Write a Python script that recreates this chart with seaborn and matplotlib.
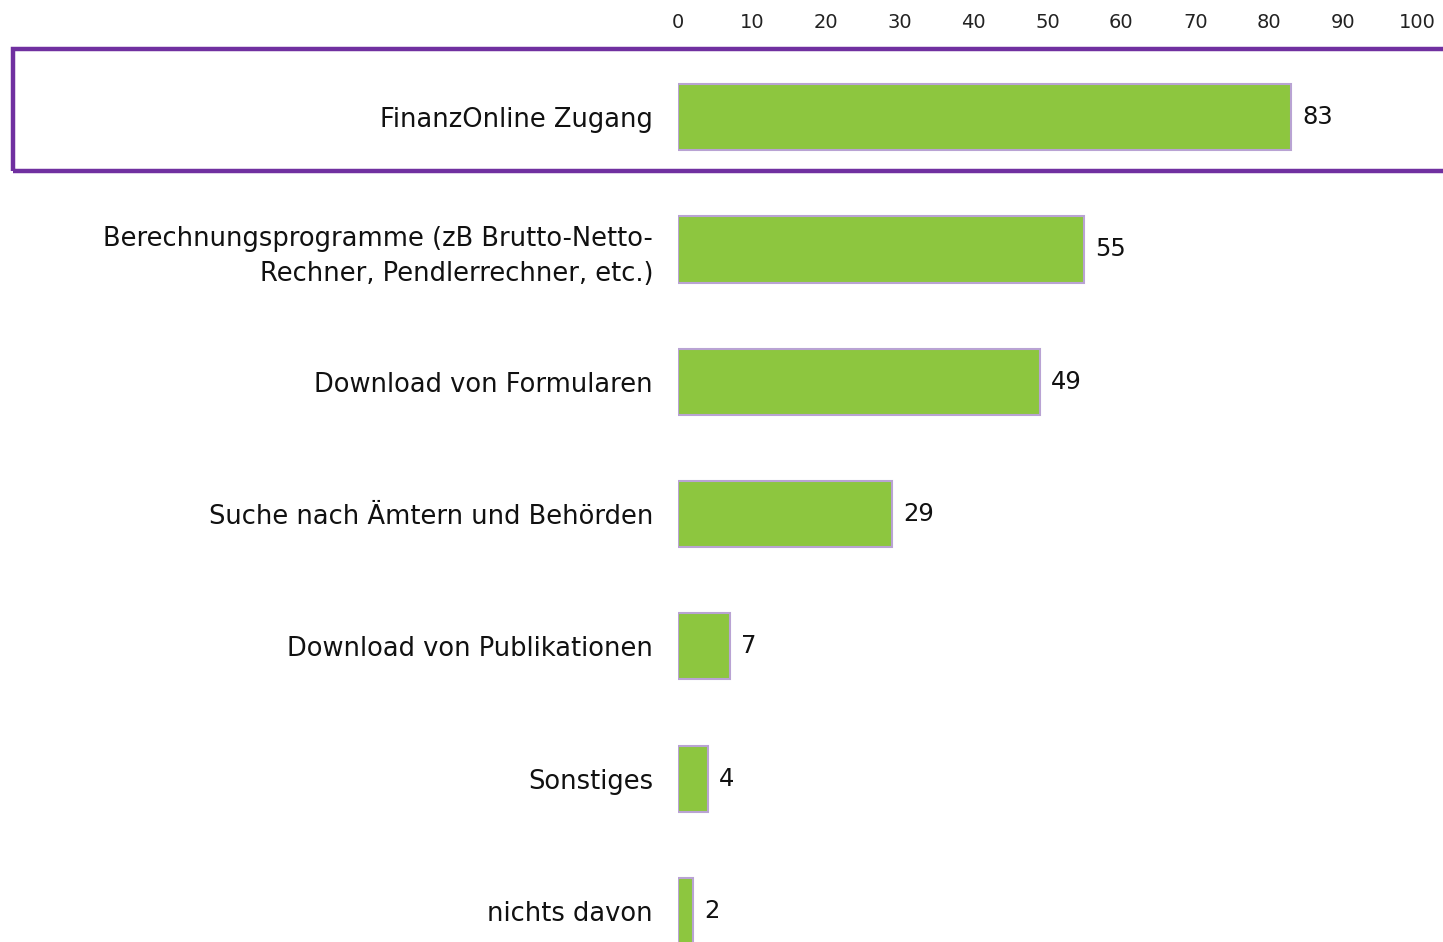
import matplotlib
matplotlib.use("Agg")
import matplotlib.pyplot as plt
import seaborn as sns
import pandas as pd
from matplotlib.patches import Rectangle

# -----------------------------
# Data
# -----------------------------
categories = [
    "FinanzOnline Zugang",
    "Berechnungsprogramme (zB Brutto-Netto-\nRechner, Pendlerrechner, etc.)",
    "Download von Formularen",
    "Suche nach Ämtern und Behörden",
    "Download von Publikationen",
    "Sonstiges",
    "nichts davon",
]
values = [83, 55, 49, 29, 7, 4, 2]
x_ticks = [0, 10, 20, 30, 40, 50, 60, 70, 80, 90, 100]

df = pd.DataFrame({"Kategorie": categories, "Wert": values})

# -----------------------------
# Style
# -----------------------------
sns.set_theme(style="white")
plt.rcParams["font.family"] = ["DejaVu Sans"]

GREEN = "#8DC63F"
EDGE = "#B9A3D3"
PURPLE = "#7030A0"

fig = plt.figure(figsize=(14.43, 9.42), dpi=100)
# axes placed so the last bar runs off the bottom edge like the original
ax = fig.add_axes([678 / 1443, 1 - 977 / 942, 739 / 1443, 926 / 942])

sns.barplot(data=df, x="Wert", y="Kategorie", orient="h", color=GREEN,
            width=0.5, edgecolor=EDGE, linewidth=1.5, saturation=1, ax=ax)

ax.set_xlim(0, 100)
ax.set_ylim(6.5, -0.5)
ax.set_xticks(x_ticks)
ax.xaxis.tick_top()
ax.tick_params(axis="x", length=0, pad=14, labelsize=14, colors="#222222")
ax.tick_params(axis="y", length=0, pad=18, labelsize=18.5, colors="#111111")
for lbl in ax.get_yticklabels():
    lbl.set_linespacing(1.45)
ax.set_xlabel("")
ax.set_ylabel("")
for s in ax.spines.values():
    s.set_visible(False)
ax.grid(False)

# value labels
for i, v in enumerate(values):
    ax.annotate(str(v), xy=(v, i), xytext=(8, 0), textcoords="offset points",
                va="center", ha="left", fontsize=17.5, color="#111111")

# highlight box around first row
box = Rectangle((13 / 1443, 1 - 171 / 942), 1.0, 122 / 942,
                transform=fig.transFigure, fill=False,
                edgecolor=PURPLE, linewidth=3.2, clip_on=False)
fig.patches.append(box)

fig.savefig("out.png", dpi=100, facecolor="white")
